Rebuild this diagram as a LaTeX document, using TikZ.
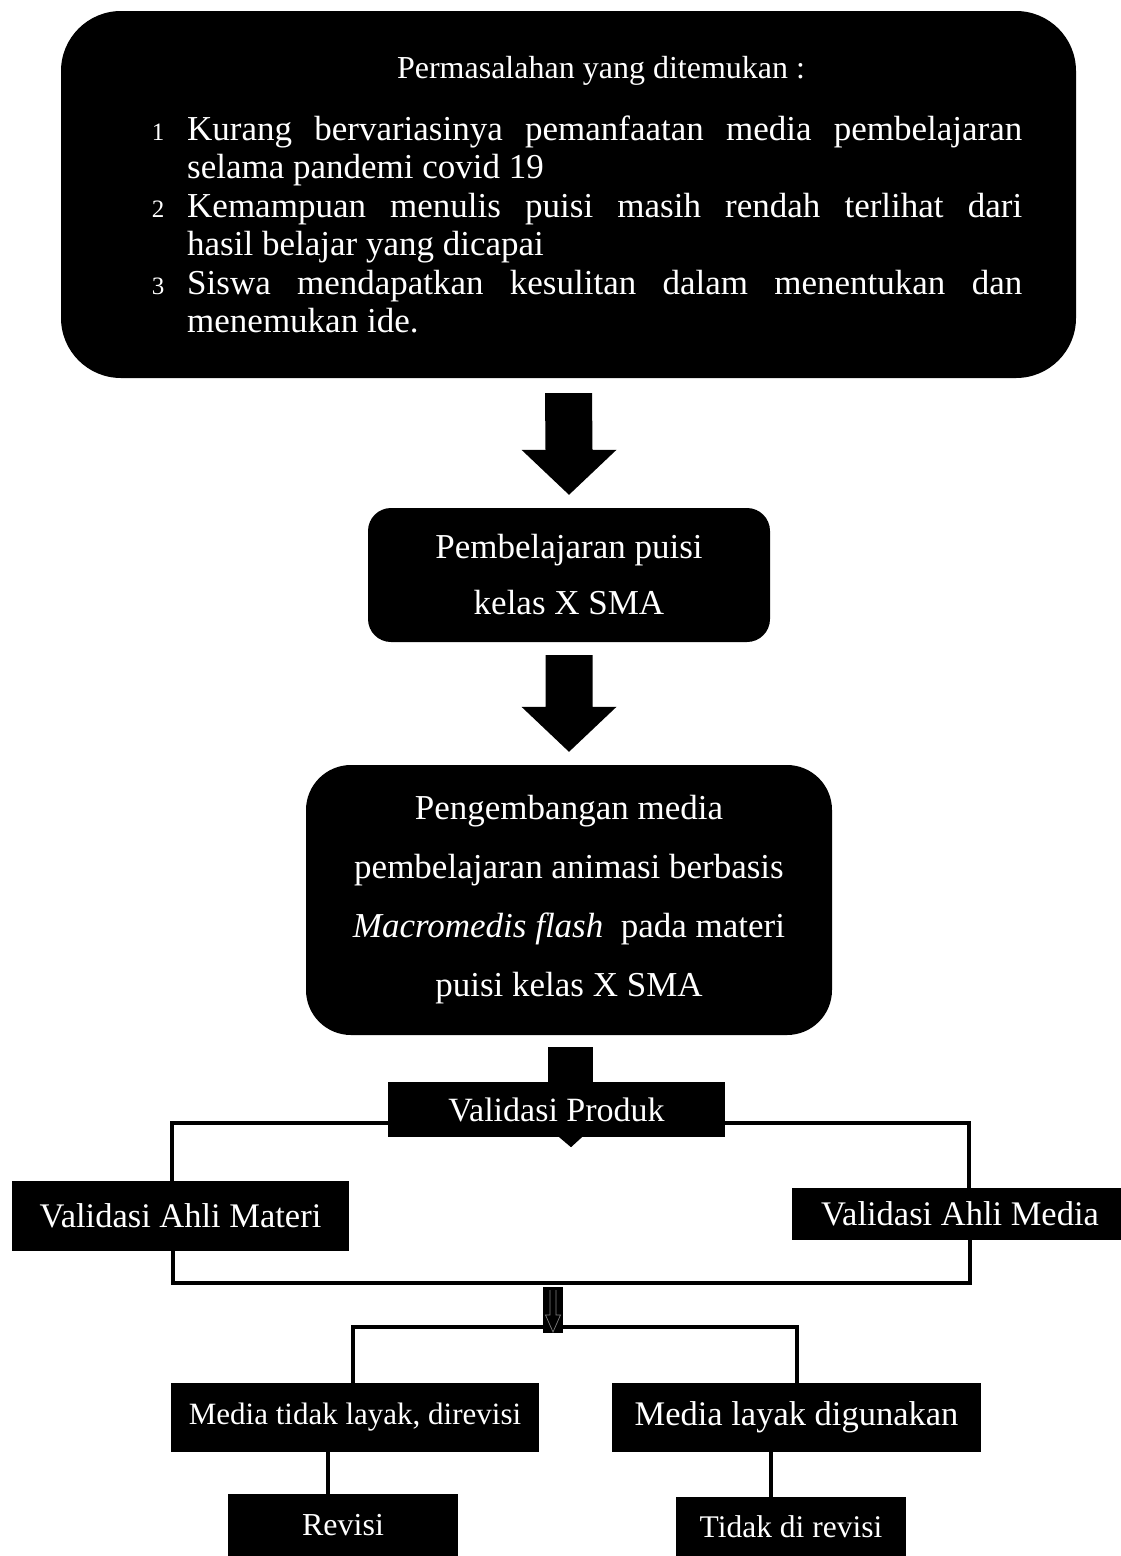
\documentclass[tikz,border=0pt]{standalone}
\usepackage{fontspec}
\setmainfont{Liberation Serif}
\usetikzlibrary{calc, positioning}

\tikzset{
  blk/.style={fill=black, text=white, inner sep=0pt, align=center},
  num/.style={text=white, inner sep=0pt, anchor=base, font={\fontsize{25}{25}\selectfont}},
  item/.style={text=white, inner sep=0pt, anchor=base west, text width=835pt,
    align=justify, font={\fontsize{35}{38.5}\selectfont}},
  conn/.style={line width=3.5pt},
}

\begin{document}
\begin{tikzpicture}[x=1pt, y=-1pt]
  \useasboundingbox (0,0) rectangle (1120,1556);

  % boxes
  \node[blk, rounded corners=60pt, minimum width=1015pt, minimum height=367pt] (prob) at (568.5,194.5) {};
  \node[text=white, inner sep=0pt, anchor=base, font={\fontsize{32}{32}\selectfont}] (ptitle) at (601,78) {Permasalahan yang ditemukan :};
  \node[num] (n1) at (158,140) {1};
  \node[num] (n2) at (158,217) {2};
  \node[num] (n3) at (158,294) {3};
  \node[item] (it1) at (187,140) {Kurang bervariasinya pemanfaatan media pembelajaran\linebreak selama pandemi covid 19};
  \node[item] (it2) at (187,217) {Kemampuan menulis puisi masih rendah terlihat dari\linebreak hasil belajar yang dicapai};
  \node[item] (it3) at (187,294) {Siswa mendapatkan kesulitan dalam menentukan dan\linebreak menemukan ide.};

  \node[blk, rounded corners=23pt, minimum width=402pt, minimum height=134pt,
    font={\fontsize{35}{56}\selectfont}] (learn) at (569,575) {Pembelajaran puisi\\kelas X SMA};
  \node[blk, rounded corners=45pt, minimum width=526pt, minimum height=270pt,
    font={\fontsize{35}{59}\selectfont}] (dev) at (569,900)
    {Pengembangan media\\pembelajaran animasi berbasis\\\textit{Macromedis flash}~ pada materi\\puisi kelas X SMA};

  \node[blk, minimum width=337pt, minimum height=55pt, font={\fontsize{34}{34}\selectfont}] (valprod) at (556.5,1109.5) {Validasi Produk};
  \node[blk, minimum width=337pt, minimum height=70pt, font={\fontsize{34.5}{34.5}\selectfont}] (matl) at (180.5,1216) {Validasi Ahli Materi};
  \node[blk, minimum width=336pt, minimum height=52pt, font={\fontsize{34.5}{34.5}\selectfont}] (medx) at (960,1214) {Validasi Ahli Media};
  \node[blk, minimum width=20pt, minimum height=46pt] (bar) at (553,1310) {};
  \node[blk, minimum width=368pt, minimum height=69pt, font={\fontsize{31}{31}\selectfont}] (tbad) at (355,1417.5) {Media tidak layak, direvisi};
  \node[blk, minimum width=369pt, minimum height=69pt, font={\fontsize{34.5}{34.5}\selectfont}] (good) at (796.5,1417.5) {Media layak digunakan};
  \node[blk, minimum width=230pt, minimum height=62pt, font={\fontsize{32}{32}\selectfont}] (revisi) at (343,1525) {Revisi};
  \node[blk, minimum width=230pt, minimum height=60pt, font={\fontsize{31.5}{31.5}\selectfont}] (nodoc) at (791,1527) {Tidak di revisi};

  % block arrows
  \fill ($(prob.south)+(-23.5,15)$) -- ($(learn.north)+(-23.5,-58)$) -- ($(learn.north)+(-47.5,-58)$)
    -- ($(learn.north)+(0,-13)$) -- ($(learn.north)+(47.5,-58)$) -- ($(learn.north)+(23.5,-58)$)
    -- ($(prob.south)+(23.5,15)$) -- cycle;
  \fill ($(learn.south)+(-23.5,13)$) -- ($(dev.north)+(-23.5,-58)$) -- ($(dev.north)+(-47.5,-58)$)
    -- ($(dev.north)+(0,-13)$) -- ($(dev.north)+(47.5,-58)$) -- ($(dev.north)+(23.5,-58)$)
    -- ($(learn.south)+(23.5,13)$) -- cycle;
  \fill ($(dev.south)+(-21,12)$) rectangle ($(dev.south |- valprod.north)+(24,1)$);
  \fill ($(dev.south |- valprod.south)+(-11,-1)$) -- ($(dev.south |- valprod.south)+(14,-1)$)
    -- ($(dev.south |- valprod.south)+(2,10)$) -- cycle;

  % connectors
  \coordinate (jl) at (172,1123);
  \coordinate (jr) at (969,1123);
  \draw[conn] (valprod.west |- jl) -- (jl) -- (jl |- matl.north);
  \draw[conn] (valprod.east |- jr) -- (jr) -- (jr |- medx.north);
  \coordinate (kl) at (173,1283);
  \coordinate (kr) at (970,1283);
  \draw[conn] (kl |- matl.south) -- (kl) -- (kr) -- (kr |- medx.south);
  \coordinate (ml) at (353,1327);
  \coordinate (mr) at (797,1327);
  \draw[conn] (ml |- tbad.north) -- (ml) -- (mr) -- (mr |- good.north);
  \draw[gray, line width=0.7pt] ($(bar.center)+(-3,-20)$) -- ++(0,25) -- ++(-4.5,0)
    -- ($(bar.center)+(0,22)$) -- ($(bar.center)+(7.5,5)$) -- ++(-4.5,0) -- ++(0,-25);
  \draw[conn] ([xshift=-27pt]tbad.south) -- ([xshift=-27pt]tbad.south |- revisi.north);
  \draw[conn] ([xshift=-25.5pt]good.south) -- ([xshift=-25.5pt]good.south |- nodoc.north);
\end{tikzpicture}
\end{document}
